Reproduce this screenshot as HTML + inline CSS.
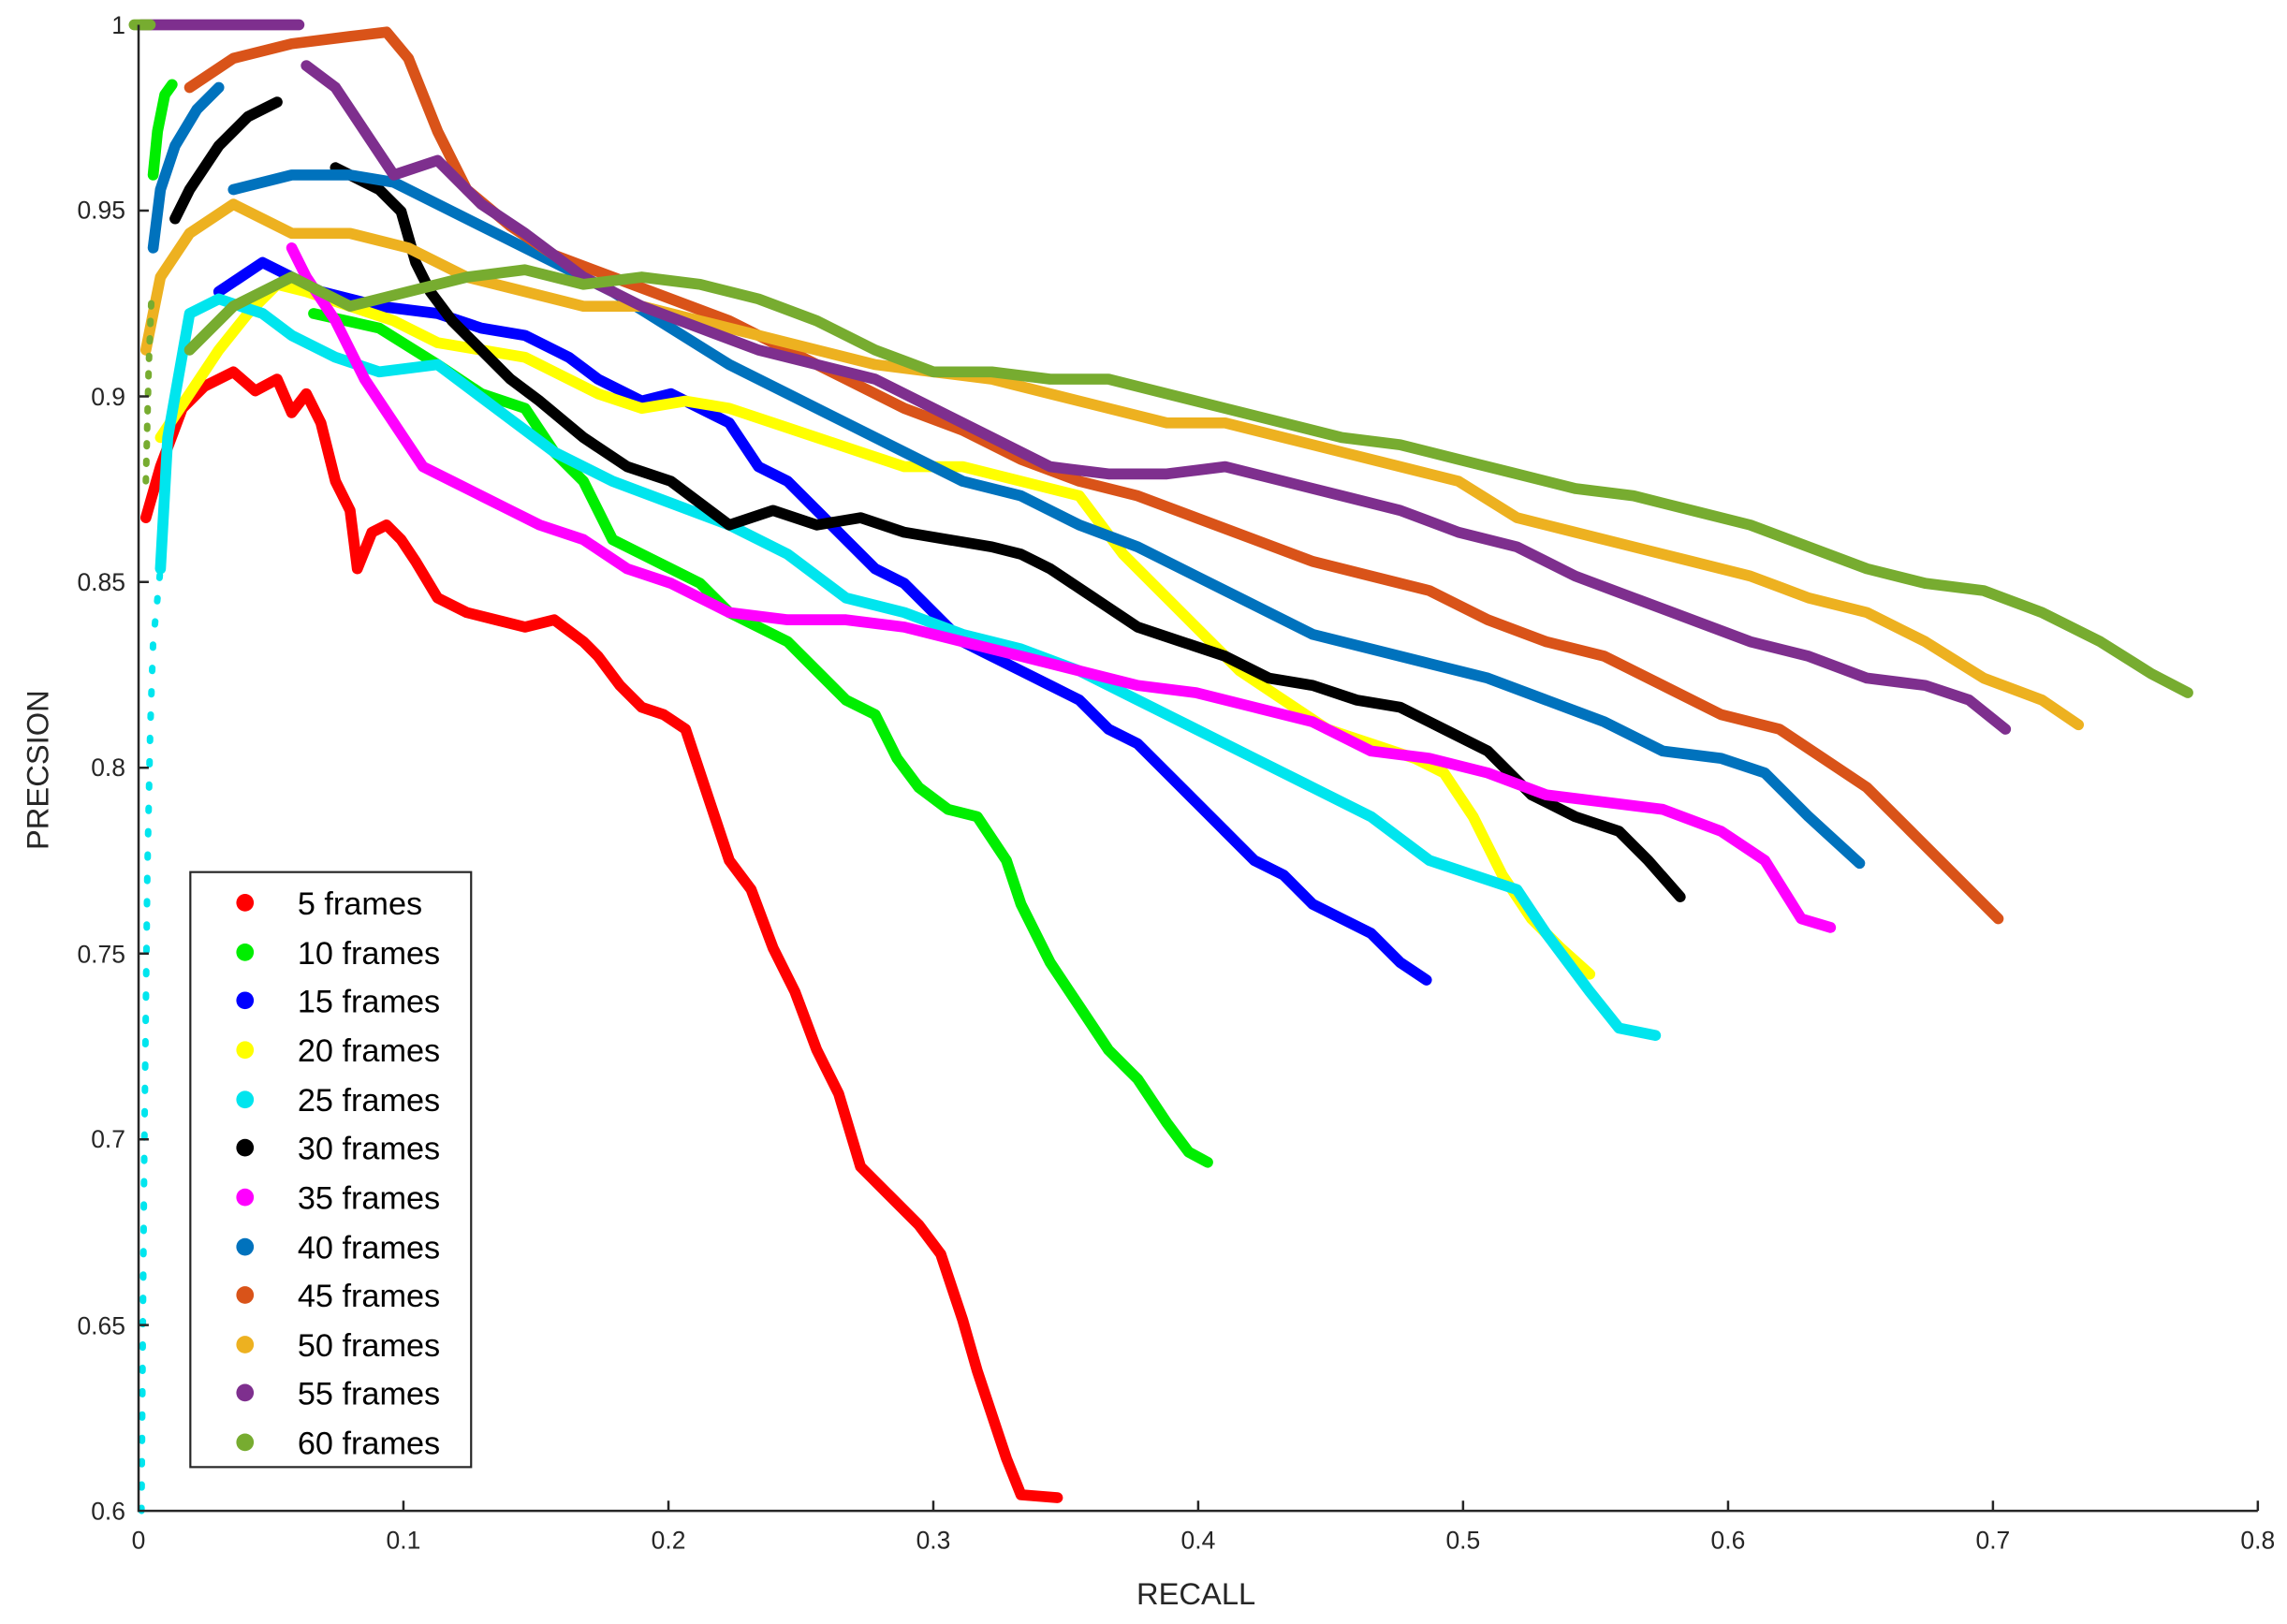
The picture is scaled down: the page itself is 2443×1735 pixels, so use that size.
<!DOCTYPE html>
<html><head><meta charset="utf-8"><style>html,body{margin:0;padding:0;background:#fff}svg{display:block}</style></head>
<body>
<svg width="2443" height="1735" viewBox="0 0 1568 1113.6" preserveAspectRatio="none" xmlns="http://www.w3.org/2000/svg" font-family="Liberation Sans, Arial, sans-serif">
<rect width="1568" height="1113.6" fill="#fff"/>
<g fill="none" stroke-width="7.5" stroke-linecap="round" stroke-linejoin="round">
<polyline stroke="#ff0000" points="100,355 110,320 125,280 140,265 160,255 175,268 190,260 200,283 210,270 220,290 230,330 240,350 245,390 255,365 265,360 275,370 285,385 300,410 320,420 340,425 360,430 380,425 400,440 410,450 425,470 440,485 455,490 470,500 490,560 500,590 515,610 530,650 545,680 560,720 575,750 590,800 610,820 630,840 645,860 660,905 670,940 680,970 690,1000 700,1025 725,1027"/>
<polyline stroke="#00ee00" points="105,120 108,90 113,65 118,58"/>
<polyline stroke="#00ee00" points="215,215 260,225 300,250 330,270 360,280 380,310 400,330 420,370 440,380 460,390 480,400 500,420 520,430 540,440 560,460 580,480 600,490 615,520 630,540 650,555 670,560 690,590 700,620 720,660 740,690 760,720 780,740 800,770 815,790 828,797"/>
<polyline stroke="#0000ff" points="150,200 180,180 220,200 260,210 300,215 330,225 360,230 390,245 410,260 440,275 460,270 480,280 500,290 520,320 540,330 560,350 580,370 600,390 620,400 640,420 660,440 680,450 700,460 720,470 740,480 760,500 780,510 800,530 820,550 840,570 860,590 880,600 900,620 920,630 940,640 960,660 978,672"/>
<polyline stroke="#ffff00" points="110,300 130,270 150,240 170,215 190,195 210,200 240,210 270,220 300,235 330,240 360,245 380,255 410,270 440,280 470,275 500,280 530,290 560,300 590,310 620,320 660,320 700,330 740,340 770,380 800,410 830,440 850,460 880,480 910,500 940,510 970,520 990,530 1010,560 1030,600 1050,630 1070,650 1090,668"/>
<polyline stroke="#00e5ee" stroke-width="4.5" stroke-dasharray="2 14" points="97,1036 98,900 99,780 101,600 103,500 105,440 110,390"/>
<polyline stroke="#00e5ee" points="110,390 115,300 130,215 150,205 180,215 200,230 230,245 260,255 300,250 340,280 380,310 420,330 460,345 500,360 540,380 580,410 620,420 660,435 700,445 740,460 780,480 820,500 860,520 900,540 940,560 980,590 1010,600 1040,610 1060,640 1090,680 1110,705 1135,710"/>
<polyline stroke="#000" points="120,150 130,130 150,100 170,80 190,70"/>
<polyline stroke="#000" points="230,115 260,130 275,145 285,180 295,200 310,220 330,240 350,260 370,275 400,300 430,320 460,330 480,345 500,360 530,350 560,360 590,355 620,365 650,370 680,375 700,380 720,390 750,410 780,430 810,440 840,450 870,465 900,470 930,480 960,485 990,500 1020,515 1050,545 1080,560 1110,570 1130,590 1152,615"/>
<polyline stroke="#ff00ff" points="200,170 210,190 230,220 250,260 270,290 290,320 310,330 330,340 350,350 370,360 400,370 430,390 460,400 500,420 540,425 580,425 620,430 660,440 700,450 740,460 780,470 820,475 860,485 900,495 940,515 980,520 1020,530 1060,545 1100,550 1140,555 1180,570 1210,590 1235,630 1255,636"/>
<polyline stroke="#0072bd" points="105,170 110,130 120,100 135,75 150,60"/>
<polyline stroke="#0072bd" points="160,130 200,120 240,120 270,125 300,140 340,160 380,180 420,200 460,225 500,250 540,270 580,290 620,310 660,330 700,340 740,360 780,375 820,395 860,415 900,435 940,445 980,455 1020,465 1060,480 1100,495 1140,515 1180,520 1210,530 1240,560 1275,592"/>
<polyline stroke="#d95319" points="130,60 160,40 200,30 240,25 265,22 280,40 300,90 320,130 350,155 380,175 420,190 460,205 500,220 540,240 580,260 620,280 660,295 700,315 740,330 780,340 820,355 860,370 900,385 940,395 980,405 1020,425 1060,440 1100,450 1140,470 1180,490 1220,500 1250,520 1280,540 1310,570 1340,600 1370,630"/>
<polyline stroke="#edb120" points="100,240 110,190 130,160 160,140 200,160 240,160 280,170 320,190 360,200 400,210 440,210 480,220 520,230 560,240 600,250 640,255 680,260 720,270 760,280 800,290 840,290 880,300 920,310 960,320 1000,330 1040,355 1080,365 1120,375 1160,385 1200,395 1240,410 1280,420 1320,440 1360,465 1400,480 1425,497"/>
<polyline stroke="#7e2f8e" points="97,17 205,17"/>
<polyline stroke="#7e2f8e" points="210,45 230,60 250,90 270,120 300,110 330,140 360,160 400,190 440,210 480,225 520,240 560,250 600,260 640,280 680,300 720,320 760,325 800,325 840,320 880,330 920,340 960,350 1000,365 1040,375 1080,395 1120,410 1160,425 1200,440 1240,450 1280,465 1320,470 1350,480 1375,500"/>
<polyline stroke="#77ac30" points="92,17 103,17"/>
<polyline stroke="#77ac30" stroke-width="4.5" stroke-dasharray="2 10" points="100,330 102,250 104,200"/>
<polyline stroke="#77ac30" points="130,240 160,210 200,190 240,210 280,200 320,190 360,185 400,195 440,190 480,195 520,205 560,220 600,240 640,255 680,255 720,260 760,260 800,270 840,280 880,290 920,300 960,305 1000,315 1040,325 1080,335 1120,340 1160,350 1200,360 1240,375 1280,390 1320,400 1360,405 1400,420 1440,440 1475,462 1500,475"/>
</g>
<g stroke="#262626" stroke-width="1.6" fill="none">
<polyline points="95,17 95,1036 1548,1036"/>
<path d="M276.6,1036v-7M458.3,1036v-7M639.9,1036v-7M821.5,1036v-7M1003.1,1036v-7M1184.8,1036v-7M1366.4,1036v-7M1548,1036v-7M95,144.4h7M95,271.8h7M95,399.1h7M95,526.5h7M95,653.9h7M95,781.3h7M95,908.6h7"/>
</g>
<g font-size="17" fill="#262626">
<g text-anchor="end">
<text x="86" y="23">1</text><text x="86" y="150">0.95</text><text x="86" y="278">0.9</text><text x="86" y="405">0.85</text><text x="86" y="532">0.8</text><text x="86" y="660">0.75</text><text x="86" y="787">0.7</text><text x="86" y="915">0.65</text><text x="86" y="1042">0.6</text>
</g>
<g text-anchor="middle">
<text x="95" y="1062">0</text><text x="276.6" y="1062">0.1</text><text x="458.3" y="1062">0.2</text><text x="639.9" y="1062">0.3</text><text x="821.5" y="1062">0.4</text><text x="1003.1" y="1062">0.5</text><text x="1184.8" y="1062">0.6</text><text x="1366.4" y="1062">0.7</text><text x="1548" y="1062">0.8</text>
</g>
<text x="820" y="1100" font-size="21" text-anchor="middle">RECALL</text>
<text transform="translate(33,528) rotate(-90)" font-size="21" text-anchor="middle">PRECSION</text>
</g>
<rect x="130.5" y="598" width="192.5" height="408" fill="#fff" stroke="#262626" stroke-width="1.4"/>
<g font-size="22" fill="#000">
<circle cx="168" cy="619" r="6" fill="#ff0000"/><text x="204" y="627">5 frames</text>
<circle cx="168" cy="653" r="6" fill="#00ee00"/><text x="204" y="661">10 frames</text>
<circle cx="168" cy="686" r="6" fill="#0000ff"/><text x="204" y="694">15 frames</text>
<circle cx="168" cy="720" r="6" fill="#ffff00"/><text x="204" y="728">20 frames</text>
<circle cx="168" cy="754" r="6" fill="#00e5ee"/><text x="204" y="762">25 frames</text>
<circle cx="168" cy="787" r="6" fill="#000"/><text x="204" y="795">30 frames</text>
<circle cx="168" cy="821" r="6" fill="#ff00ff"/><text x="204" y="829">35 frames</text>
<circle cx="168" cy="855" r="6" fill="#0072bd"/><text x="204" y="863">40 frames</text>
<circle cx="168" cy="888" r="6" fill="#d95319"/><text x="204" y="896">45 frames</text>
<circle cx="168" cy="922" r="6" fill="#edb120"/><text x="204" y="930">50 frames</text>
<circle cx="168" cy="955" r="6" fill="#7e2f8e"/><text x="204" y="963">55 frames</text>
<circle cx="168" cy="989" r="6" fill="#77ac30"/><text x="204" y="997">60 frames</text>
</g>
</svg>
</body></html>
